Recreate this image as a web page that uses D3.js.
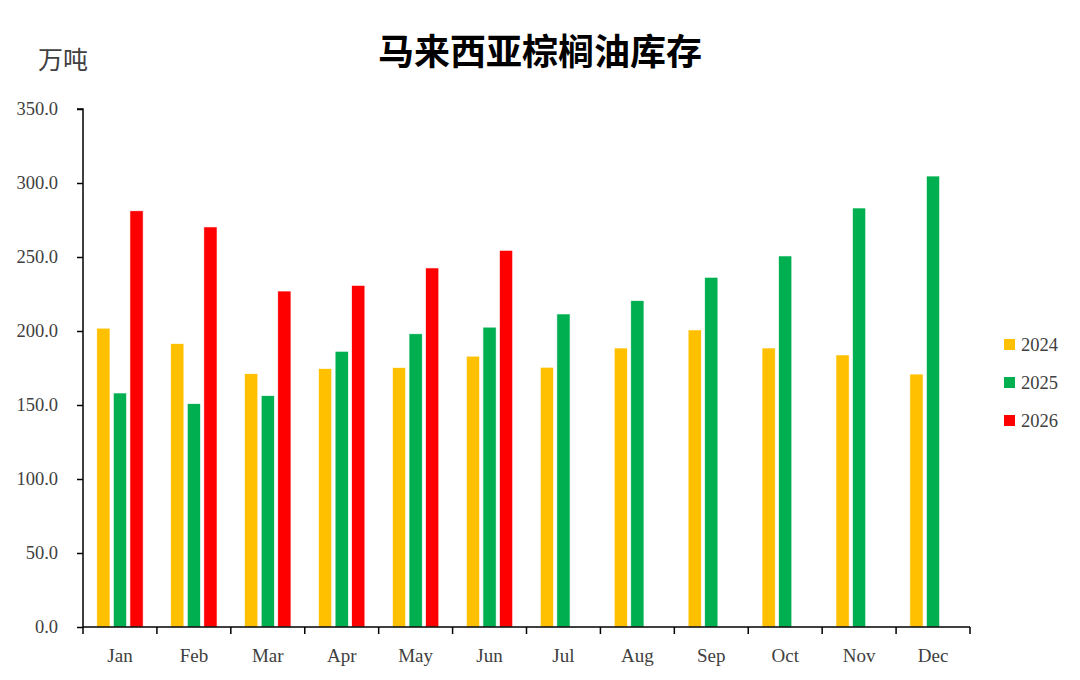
<!DOCTYPE html>
<html>
<head>
<meta charset="utf-8">
<script src="https://cdn.jsdelivr.net/npm/d3@7"></script>
<style>
  body { margin: 0; background: #fff; }
  svg text { fill: #404040; }
</style>
</head>
<body>
<div id="chart"></div>
<script>
// 月份
const months = ['Jan', 'Feb', 'Mar', 'Apr', 'May', 'Jun', 'Jul', 'Aug', 'Sep', 'Oct', 'Nov', 'Dec'];
const years = ['2024', '2025', '2026'];
// 库存 (万吨)
const stock2024 = [201.9, 191.5, 171.2, 174.6, 175.3, 183.0, 175.5, 188.5, 200.7, 188.5, 183.8, 170.9];
const stock2025 = [158.1, 150.9, 156.3, 186.3, 198.1, 202.6, 211.5, 220.5, 236.3, 250.7, 283.1, 304.7];
const stock2026 = [281.2, 270.3, 227.0, 230.8, 242.6, 254.5, null, null, null, null, null, null];
const yTicks = [0, 50, 100, 150, 200, 250, 300, 350];
const colors = ['#FFC000', '#00B050', '#FF0000'];

const series = [stock2024, stock2025, stock2026];

const width = 1080, height = 680;
const margin = { left: 83, right: 110, top: 109, bottom: 53 };

const svg = d3.select('#chart').append('svg')
  .attr('width', width)
  .attr('height', height);

// 标题
svg.append('text')
  .attr('x', 540)
  .attr('y', 65)
  .attr('text-anchor', 'middle')
  .style('font-family', '"Noto Sans CJK SC", serif')
  .style('font-weight', 'bold')
  .style('font-size', '36px')
  .style('fill', '#000')
  .text('马来西亚棕榈油库存');

svg.append('text')
  .attr('x', 38)
  .attr('y', 69)
  .style('font-family', '"Noto Sans CJK SC", serif')
  .style('font-size', '25px')
  .text('万吨');

let x0 = d3.scaleBand()
  .domain(months)
  .range([margin.left, width - margin.right]);

let x1 = d3.scaleBand()
  .domain(years)
  .range([13.8, x0.bandwidth() - 13.8])
  .paddingInner(0.205);

let y = d3.scaleLinear()
  .domain([0, 350])
  .range([height - margin.bottom, margin.top]);

// y axis
let yAxis = d3.axisLeft(y)
  .tickValues(yTicks)
  .tickSize(6)
  .tickFormat(d => d.toFixed(1));

let yg = svg.append('g')
  .attr('transform', 'translate(' + margin.left + ',0)')
  .call(yAxis);
yg.select('.domain').attr('stroke', '#000').attr('stroke-width', 1.5).attr('d', 'M-6,' + margin.top + 'H0V' + (height - margin.bottom));
yg.selectAll('.tick line').attr('stroke', '#000').attr('stroke-width', 1.5);
yg.selectAll('.tick text')
  .attr('x', -25)
  .style('font-family', '"Liberation Serif", serif')
  .style('font-size', '18.5px')
  .style('fill', '#404040');

// bars
months.forEach((m, i) => {
  series.forEach((s, k) => {
    if (s[i] == null) return;
    svg.append('rect')
      .attr('class', 'bar')
      .attr('x', x0(m) + x1(years[k]))
      .attr('y', y(s[i]))
      .attr('width', x1.bandwidth())
      .attr('height', y(0) - y(s[i]))
      .attr('fill', colors[k])
      .attr('stroke', '#fff')
      .attr('stroke-width', 0.6);
  });
});

// x axis
let xAxis = d3.axisBottom(x0).tickSize(0).tickPadding(22);
let xg = svg.append('g')
  .attr('transform', 'translate(0,' + y(0) + ')')
  .call(xAxis);
xg.select('.domain').attr('stroke', '#000').attr('stroke-width', 1.5).attr('d', 'M' + margin.left + ',0H' + (width - margin.right));
xg.selectAll('.tick text')
  .style('font-family', '"Liberation Serif", serif')
  .style('font-size', '19px')
  .style('fill', '#404040');

// 分隔刻度
let bounds = months.map(m => x0(m)).concat([x0.range()[1]]);
xg.selectAll('.sep')
  .data(bounds)
  .enter().append('line')
  .attr('class', 'sep')
  .attr('x1', d => d).attr('x2', d => d)
  .attr('y1', 0).attr('y2', 7)
  .attr('stroke', '#000')
  .attr('stroke-width', 1.5);

// legend
let legend = svg.append('g').attr('transform', 'translate(1004,339)');
years.forEach((yr, k) => {
  let g = legend.append('g').attr('transform', 'translate(0,' + (k * 38) + ')');
  g.append('rect')
    .attr('width', 11).attr('height', 11)
    .attr('fill', colors[k]);
  g.append('text')
    .attr('x', 17)
    .attr('y', 12)
    .style('font-family', '"Liberation Serif", serif')
    .style('font-size', '18.5px')
    .text(yr);
});
</script>
</body>
</html>
